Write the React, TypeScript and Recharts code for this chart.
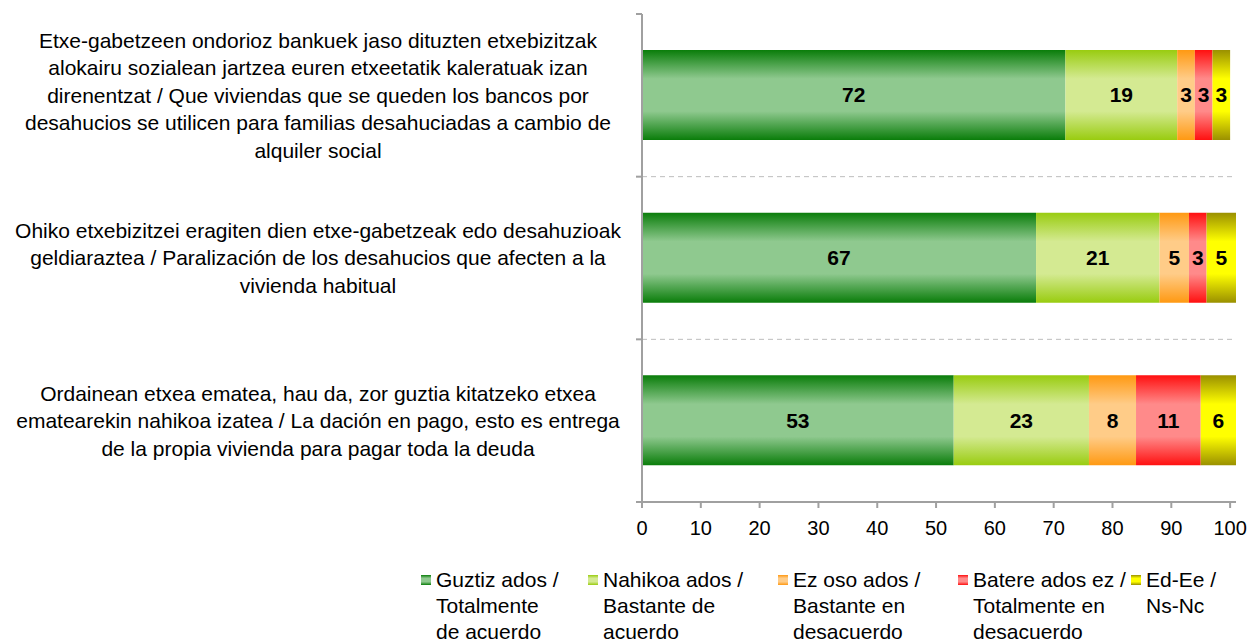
import { BarChart, Bar, XAxis, YAxis, Legend, LabelList, ReferenceLine } from "recharts"

const categories = [
  [
    "Etxe-gabetzeen ondorioz bankuek jaso dituzten etxebizitzak",
    "alokairu sozialean jartzea euren etxeetatik kaleratuak izan",
    "direnentzat / Que viviendas que se queden los bancos por",
    "desahucios se utilicen para familias desahuciadas a cambio de",
    "alquiler social",
  ],
  [
    "Ohiko etxebizitzei eragiten dien etxe-gabetzeak edo desahuzioak",
    "geldiaraztea / Paralización de los desahucios que afecten a la",
    "vivienda habitual",
  ],
  [
    "Ordainean etxea ematea, hau da, zor guztia kitatzeko etxea",
    "ematearekin nahikoa izatea / La dación en pago, esto es entrega",
    "de la propia vivienda para pagar toda la deuda",
  ],
]

const totalmenteAcuerdo = [72, 67, 53]
const bastanteAcuerdo = [19, 21, 23]
const bastanteDesacuerdo = [3, 5, 8]
const totalmenteDesacuerdo = [3, 3, 11]
const nsNc = [3, 5, 6]

const xTicks = [0, 10, 20, 30, 40, 50, 60, 70, 80, 90, 100]

const series = [
  { key: "s1", values: totalmenteAcuerdo, lines: ["Guztiz ados /", "Totalmente", "de acuerdo"], edge: "#0a7d0a", mid: "#8fc98f" },
  { key: "s2", values: bastanteAcuerdo, lines: ["Nahikoa ados /", "Bastante de", "acuerdo"], edge: "#99cc10", mid: "#d4ea92" },
  { key: "s3", values: bastanteDesacuerdo, lines: ["Ez oso ados /", "Bastante en", "desacuerdo"], edge: "#ff9912", mid: "#ffcc88" },
  { key: "s4", values: totalmenteDesacuerdo, lines: ["Batere ados ez /", "Totalmente en", "desacuerdo"], edge: "#ff1010", mid: "#ff8a8a" },
  { key: "s5", values: nsNc, lines: ["Ed-Ee /", "Ns-Nc"], edge: "#9a9000", mid: "#ffff00" },
]

const data = categories.map((_, i) => {
  const row: Record<string, number | string> = { cat: String(i) }
  series.forEach((s) => (row[s.key] = s.values[i]))
  return row
})

const FONT = "'Liberation Sans', Arial, sans-serif"
const AXIS = "#a0a0a0"
const LEGEND_X = [421, 588, 778, 958, 1131]

function CategoryTick(props: any) {
  const { x, y, payload, index } = props
  const lines = categories[Number(payload.value)]
  const lh = 27.5
  const y0 = y - ((lines.length - 1) * lh) / 2
  const half = payload.offset || 0
  const ax = x + 8
  return (
    <g>
      <text x={318} y={y0} textAnchor="middle" fontFamily={FONT} fontSize={21} fill="#000">
        {lines.map((l, i) => (
          <tspan key={i} x={318} y={y0 + i * lh} dy="0.35em">
            {l}
          </tspan>
        ))}
      </text>
      <line x1={ax - 6} x2={ax} y1={y - half} y2={y - half} stroke={AXIS} strokeWidth={2} />
      {index === categories.length - 1 && (
        <line x1={ax - 6} x2={ax} y1={y + half} y2={y + half} stroke={AXIS} strokeWidth={2} />
      )}
    </g>
  )
}

function LegendContent() {
  return (
    <div style={{ position: "relative", height: 107, overflow: "hidden", fontFamily: FONT, fontSize: 21 }}>
      {series.map((s, i) => (
        <div key={s.key} style={{ position: "absolute", left: LEGEND_X[i], top: 35 }}>
          <svg width={10} height={10} style={{ position: "absolute", left: 0, top: 8 }}>
            <rect width={10} height={10} fill={`url(#grad-${s.key})`} />
          </svg>
          <div style={{ marginLeft: 15, lineHeight: "26px", whiteSpace: "nowrap", color: "#000" }}>
            {s.lines.map((l, j) => (
              <div key={j}>{l}</div>
            ))}
          </div>
        </div>
      ))}
    </div>
  )
}

export default function App() {
  return (
    <div style={{ position: "absolute", left: 0, top: 0, width: 1250, height: 639, overflow: "hidden", background: "#fff" }}>
      <BarChart
        width={1250}
        height={639}
        data={data}
        layout="vertical"
        margin={{ top: 14, right: 14, left: 0, bottom: 0 }}
      >
        <defs>
          {series.map((s) => (
            <linearGradient key={s.key} id={`grad-${s.key}`} x1="0" y1="0" x2="0" y2="1">
              <stop offset="0%" stopColor={s.edge} />
              <stop offset="32%" stopColor={s.mid} />
              <stop offset="68%" stopColor={s.mid} />
              <stop offset="100%" stopColor={s.edge} />
            </linearGradient>
          ))}
        </defs>
        <YAxis
          type="category"
          dataKey="cat"
          width={642}
          axisLine={{ stroke: AXIS, strokeWidth: 2 }}
          tickLine={false}
          tickSize={6}
          tickMargin={2}
          tick={<CategoryTick />}
        />
        <XAxis
          type="number"
          domain={[0, 100]}
          ticks={xTicks}
          height={30}
          tickSize={6}
          tickMargin={13}
          axisLine={{ stroke: AXIS, strokeWidth: 2 }}
          tickLine={{ stroke: AXIS, strokeWidth: 2 }}
          tick={{ fontSize: 20, fill: "#000", fontFamily: FONT }}
        />
        {/* dashed separators at the band boundaries */}
        {data.slice(1).map((d) => (
          <ReferenceLine key={d.cat} y={d.cat} position="start" stroke="#bdbdbd" strokeDasharray="5 4" />
        ))}
        {series.map((s) => (
          <Bar key={s.key} dataKey={s.key} stackId="a" barSize={90} fill={`url(#grad-${s.key})`} isAnimationActive={false}>
            <LabelList dataKey={s.key} position="center" fill="#000" fontSize={21} fontWeight="bold" fontFamily={FONT} />
          </Bar>
        ))}
        <Legend verticalAlign="bottom" content={<LegendContent />} />
      </BarChart>
    </div>
  )
}
